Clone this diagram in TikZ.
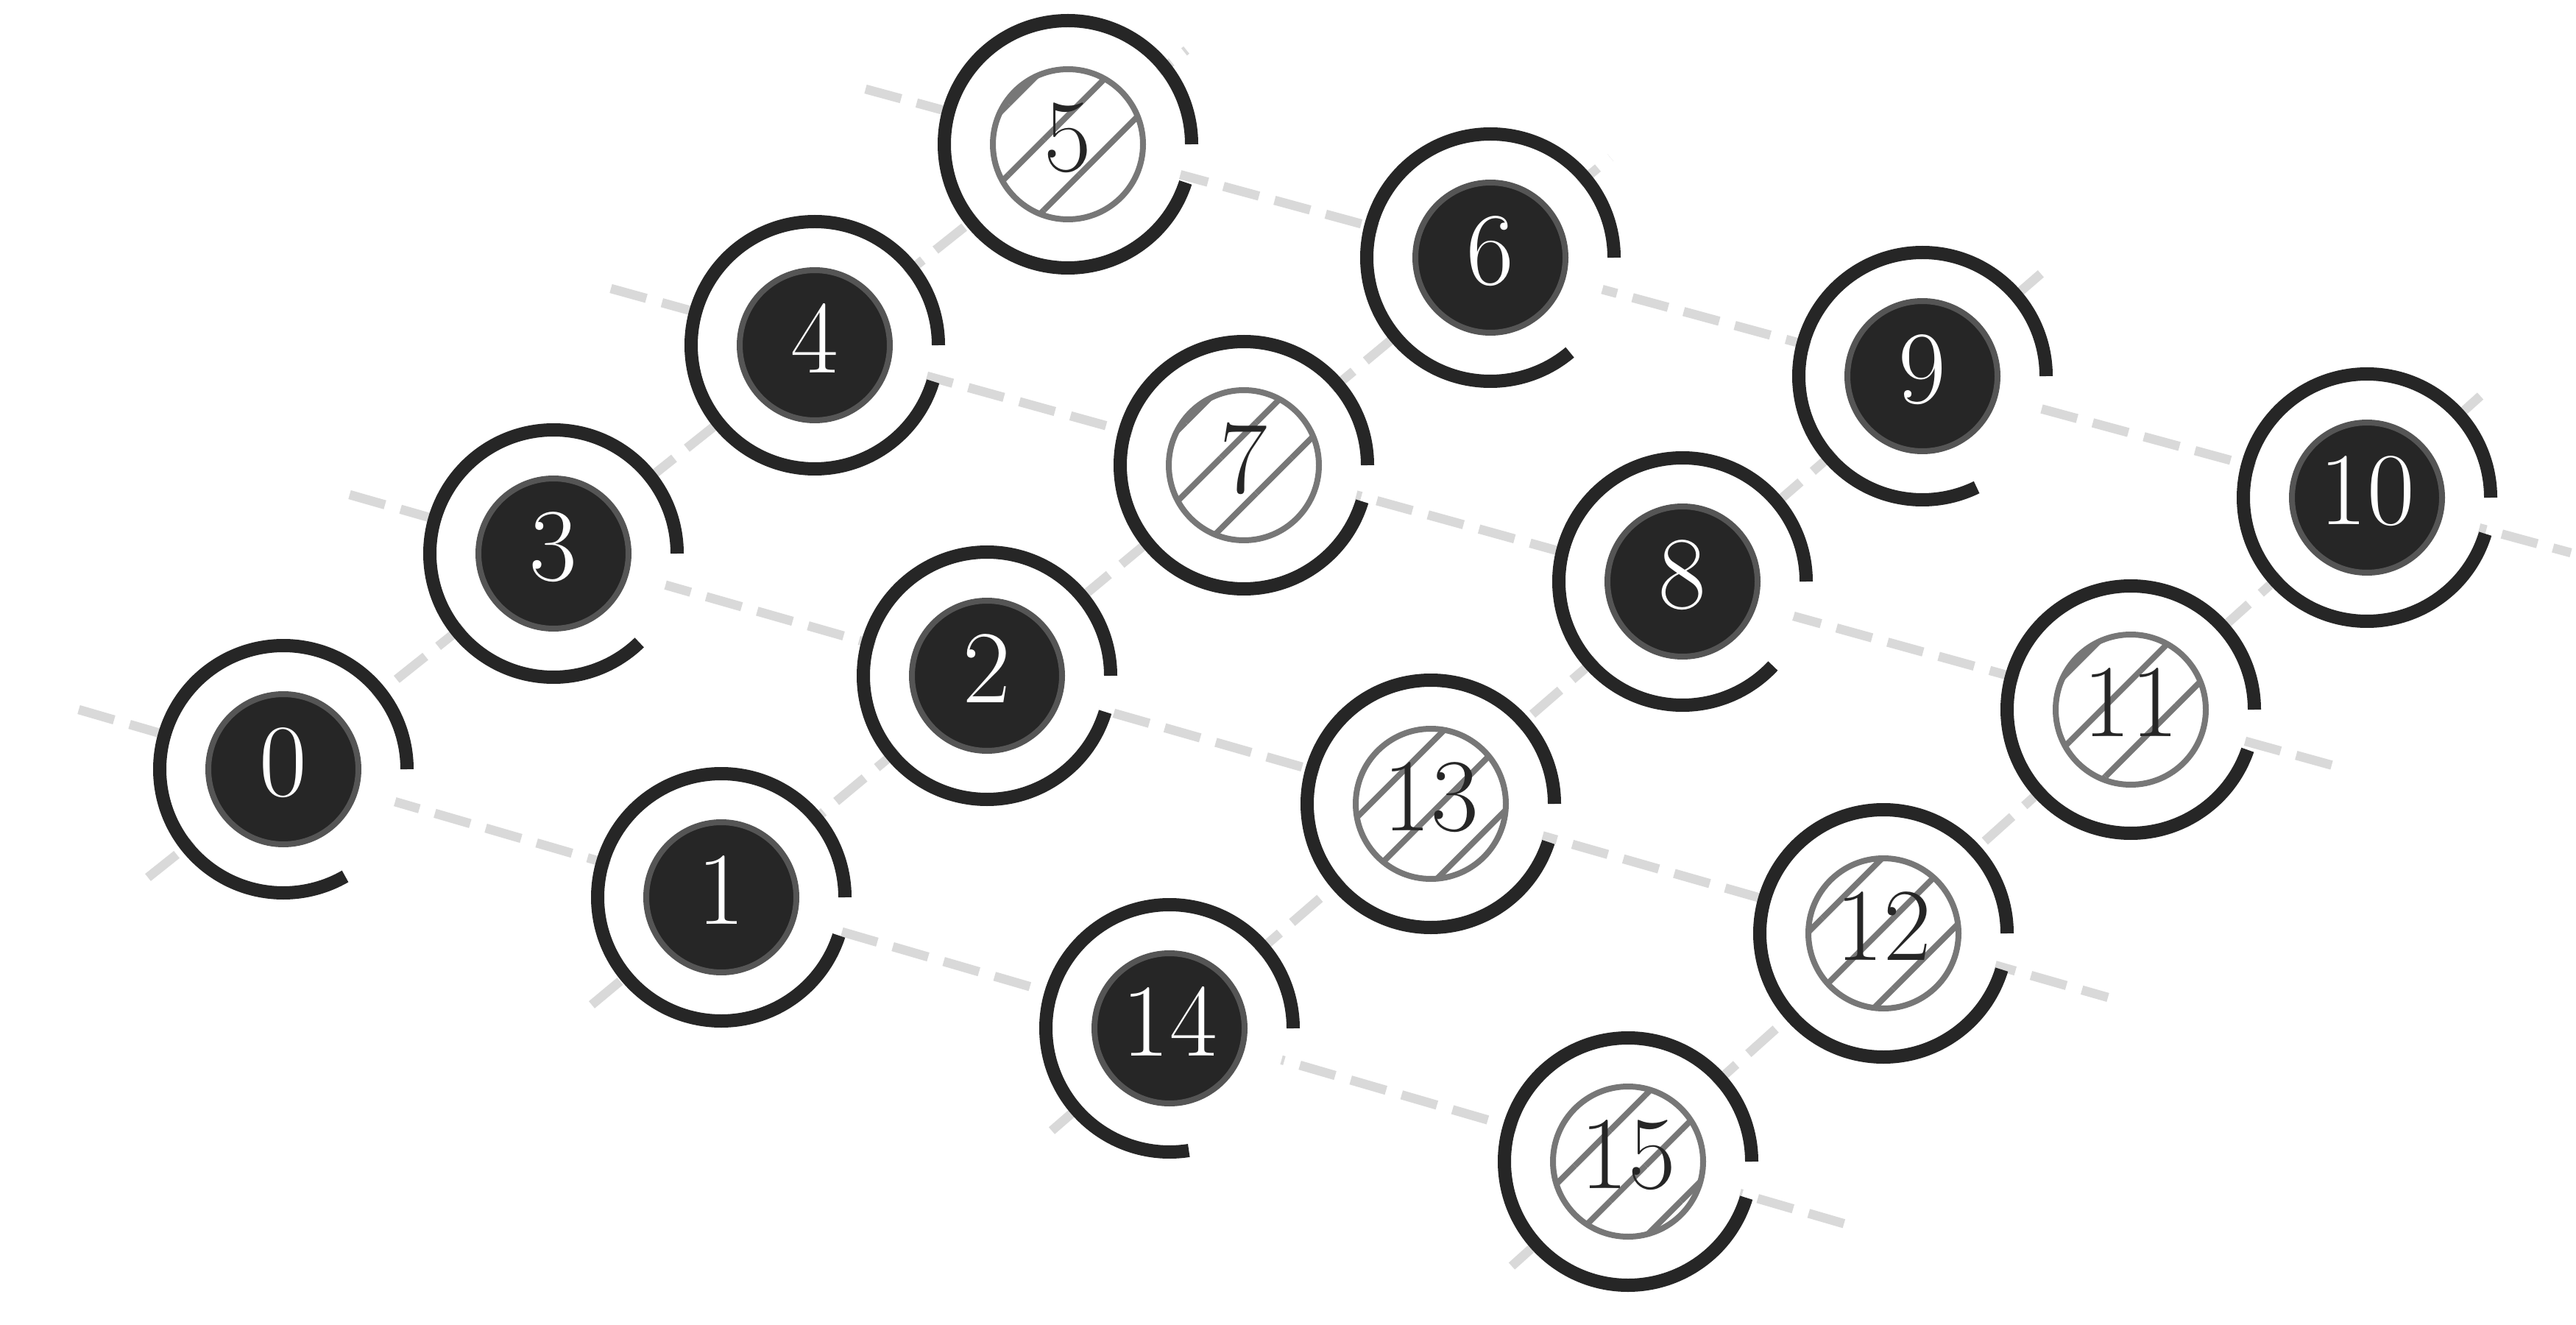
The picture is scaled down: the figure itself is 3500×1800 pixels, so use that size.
\documentclass[tikz,border=0pt]{standalone}
\usetikzlibrary{patterns.meta}
\definecolor{ink}{HTML}{262626}
\definecolor{rimgray}{HTML}{555555}
\definecolor{hatchgray}{HTML}{777777}
\definecolor{gridgray}{HTML}{D9D9D9}
\begin{document}
\begin{tikzpicture}[x=0.1mm,y=0.1mm,
  gridline/.style={draw=gridgray, line width=1.25mm, dash pattern=on 5mm off 2.2mm},
  ringarc/.style={draw=ink, line width=1.8mm},
  basenode/.style={circle, minimum size=20.4mm, inner sep=0pt, line width=0.8mm, text depth=2mm, font=\fontsize{40}{48}\selectfont},
  fullnode/.style={basenode, draw=rimgray, fill=ink, text=white},
  hatchnode/.style={basenode, draw=hatchgray, fill=white, pattern={Lines[angle=45,distance=6.8mm,line width=0.8mm]}, pattern color=hatchgray, text=ink}
]
\useasboundingbox (0,0) rectangle (3500,-1800);
% node centres
\coordinate (c0) at (385,-1045);
\coordinate (c1) at (980,-1219);
\coordinate (c2) at (1341,-918);
\coordinate (c3) at (752,-752);
\coordinate (c4) at (1107,-469);
\coordinate (c5) at (1451,-196);
\coordinate (c6) at (2025,-350);
\coordinate (c7) at (1690,-632);
\coordinate (c8) at (2286,-790);
\coordinate (c9) at (2612,-511);
\coordinate (c10) at (3216,-676);
\coordinate (c11) at (2895,-964);
\coordinate (c12) at (2559,-1268);
\coordinate (c13) at (1944,-1092);
\coordinate (c14) at (1589,-1397);
\coordinate (c15) at (2212,-1578);
% grid line ends
\coordinate (ra0) at (107,-964);   \coordinate (rb0) at (2518,-1666);
\coordinate (ra1) at (475,-672);   \coordinate (rb1) at (2864,-1355);
\coordinate (ra2) at (830,-392);   \coordinate (rb2) at (3170,-1040);
\coordinate (ra3) at (1176,-121);  \coordinate (rb3) at (3493,-751);
\coordinate (ka0) at (201,-1192);  \coordinate (kb0) at (1612,-68);
\coordinate (ka1) at (804,-1365);  \coordinate (kb1) at (2188,-214);
\coordinate (ka2) at (1429,-1536); \coordinate (kb2) at (2775,-370);
\coordinate (ka3) at (2054,-1720); \coordinate (kb3) at (3370,-538);
% dashed grid
\foreach \i in {0,1,2,3} {
  \draw[gridline] (ra\i) -- (rb\i);
  \draw[gridline] (ka\i) -- (kb\i);
}
% white discs and rings
\foreach \k/\e in {0/300,1/342,2/343,3/314,4/343,5/342,6/310,7/343,8/317,9/296,10/343,11/341,12/343,13/342,14/279,15/343} {
  \fill[white] (c\k) circle (158);
  \draw[ringarc] (c\k) ++(0:168) arc (0:\e:168);
}
% inner nodes
\node[fullnode]  (n0)  at (c0)  {0};
\node[fullnode]  (n1)  at (c1)  {1};
\node[fullnode]  (n2)  at (c2)  {2};
\node[fullnode]  (n3)  at (c3)  {3};
\node[fullnode]  (n4)  at (c4)  {4};
\node[hatchnode] (n5)  at (c5)  {5};
\node[fullnode]  (n6)  at (c6)  {6};
\node[hatchnode] (n7)  at (c7)  {7};
\node[fullnode]  (n8)  at (c8)  {8};
\node[fullnode]  (n9)  at (c9)  {9};
\node[fullnode]  (n10) at (c10) {10};
\node[hatchnode] (n11) at (c11) {11};
\node[hatchnode] (n12) at (c12) {12};
\node[hatchnode] (n13) at (c13) {13};
\node[fullnode]  (n14) at (c14) {14};
\node[hatchnode] (n15) at (c15) {15};
\end{tikzpicture}
\end{document}
